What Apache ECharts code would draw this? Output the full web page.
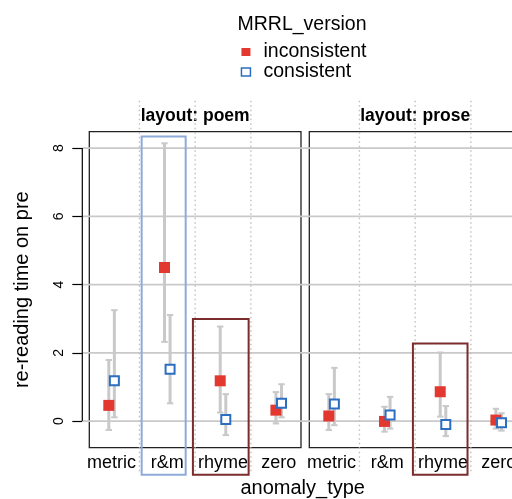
<!DOCTYPE html>
<html>
<head>
<meta charset="utf-8">
<script src="https://cdn.jsdelivr.net/npm/echarts@6/dist/echarts.min.js"></script>
<style>
html,body{margin:0;padding:0;background:#fff;}
#chart{width:512px;height:499px;}
</style>
</head>
<body>
<div id="chart"></div>
<script>
// ---- data ----
const categories = ['metric', 'r&m', 'rhyme', 'zero'];
const panelTitles = ['layout: poem', 'layout: prose'];
const seriesNames = ['inconsistent', 'consistent'];
const yTicks = [0, 2, 4, 6, 8];

const poemInconsistent     = [0.46, 4.50, 1.18, 0.32];
const poemInconsistentLow  = [-0.26, 2.32, 0.25, -0.07];
const poemInconsistentHigh = [1.79, 8.14, 2.77, 0.85];
const poemConsistent       = [1.18, 1.52, 0.05, 0.52];
const poemConsistentLow    = [0.11, 0.52, -0.41, 0.11];
const poemConsistentHigh   = [3.25, 3.11, 0.79, 1.08];

const proseInconsistent     = [0.15, -0.01, 0.86, 0.03];
const proseInconsistentLow  = [-0.26, -0.31, 0.13, -0.22];
const proseInconsistentHigh = [0.79, 0.42, 2.01, 0.36];
const proseConsistent       = [0.50, 0.18, -0.10, -0.05];
const proseConsistentLow    = [-0.12, -0.22, -0.44, -0.28];
const proseConsistentHigh   = [1.56, 0.71, 0.44, 0.23];

// highlight boxes: [panel, xFrom, xTo, yTop] (category units / data units)
const highlightPanel = [0, 0, 1];
const highlightFrom  = [1.54, 2.46, 2.46];
const highlightTo    = [2.33, 3.46, 3.44];
const highlightTop   = [8.34, 2.99, 2.27];

// ---- styles ----
const RED = '#e2382f', BLUE = '#2b6ec2', BAR = '#c9c9c9', GRIDC = '#c9c9c9';
const HL_COLORS = ['#8eaad9', '#7b2c2c', '#7b2c2c'];
const DODGE = 0.05;
const X_MIN = 0.6, X_MAX = 4.4, Y_MIN = -0.78, Y_MAX = 8.48;
const AXIS_OFFSET = 7;
const HL_BOTTOM = -1.57, DOT_TOP = 9.39, DOT_BOTTOM = -1.52;

const chart = echarts.init(document.getElementById('chart'), null, {renderer: 'canvas'});

function pts(vals, off) { return vals.map((v, i) => [i + 1 + off, v]); }
function bars(lo, hi, off) { return lo.map((l, i) => [i + 1 + off, l, hi[i]]); }

function renderErr(params, api) {
  const x = api.value(0);
  const a = api.coord([x, api.value(1)]);
  const b = api.coord([x, api.value(2)]);
  const cap = 3.2;
  return {type: 'group', children: [
    {type: 'line', shape: {x1: a[0], y1: a[1], x2: b[0], y2: b[1]}, style: {stroke: BAR, lineWidth: 3}},
    {type: 'line', shape: {x1: a[0] - cap, y1: a[1], x2: a[0] + cap, y2: a[1]}, style: {stroke: BAR, lineWidth: 2}},
    {type: 'line', shape: {x1: b[0] - cap, y1: b[1], x2: b[0] + cap, y2: b[1]}, style: {stroke: BAR, lineWidth: 2}}
  ]};
}

function renderDotted(params, api) {
  const x = api.value(0);
  const a = api.coord([x, DOT_TOP]);
  const b = api.coord([x, DOT_BOTTOM]);
  return {type: 'line', shape: {x1: a[0], y1: a[1], x2: b[0], y2: b[1]},
    style: {stroke: '#bfbfbf', lineWidth: 1.4, lineDash: [1.5, 3]}};
}

function renderHLine(params, api) {
  const p = api.coord([X_MIN, api.value(1)]);
  return {type: 'line', shape: {x1: p[0] - AXIS_OFFSET, y1: p[1], x2: api.getWidth(), y2: p[1]},
    style: {stroke: GRIDC, lineWidth: 1.6}};
}

function renderAxisLine(params, api) {
  const a = api.coord([X_MIN, api.value(1)]);
  const b = api.coord([X_MIN, api.value(2)]);
  return {type: 'line', shape: {x1: a[0] - AXIS_OFFSET, y1: a[1], x2: b[0] - AXIS_OFFSET, y2: b[1]},
    style: {stroke: '#000', lineWidth: 1.2}};
}

function renderHL(params, api) {
  const a = api.coord([api.value(0), api.value(2)]);
  const b = api.coord([api.value(1), HL_BOTTOM]);
  return {type: 'rect', shape: {x: a[0], y: a[1], width: b[0] - a[0], height: b[1] - a[1]},
    style: {fill: 'none', stroke: HL_COLORS[api.value(3)], lineWidth: 2}};
}

const grids = [
  {left: 89.3, top: 131.7, width: 211.7, height: 316},
  {left: 309.3, top: 131.7, width: 211.7, height: 316}
].map(g => Object.assign(g, {show: true, borderColor: '#222', borderWidth: 1.3, backgroundColor: 'transparent',
  containLabel: false, outerBoundsMode: 'none'}));

const xAxes = [0, 1].map(i => ({
  gridIndex: i, type: 'value', min: X_MIN, max: X_MAX,
  axisLine: {show: false}, axisTick: {show: false}, splitLine: {show: false},
  axisLabel: {
    customValues: [1, 2, 3, 4],
    formatter: v => categories[Math.round(v) - 1],
    fontSize: 18, color: '#000', margin: 6, fontFamily: 'Liberation Sans, Arial, sans-serif'
  }
}));

const yAxes = [
  {
    gridIndex: 0, type: 'value', min: Y_MIN, max: Y_MAX, offset: AXIS_OFFSET,
    name: 're-reading time on pre', nameLocation: 'middle', nameRotate: 90, nameGap: 50,
    nameTextStyle: {fontSize: 20, color: '#000', fontFamily: 'Liberation Sans, Arial, sans-serif'},
    axisLine: {show: false},
    axisTick: {show: true, customValues: yTicks, length: 10, lineStyle: {color: '#000', width: 1.2}},
    axisLabel: {customValues: yTicks, rotate: 90, fontSize: 14, margin: 16, color: '#000',
      fontFamily: 'Liberation Sans, Arial, sans-serif'},
    splitLine: {show: false}
  },
  {gridIndex: 1, type: 'value', min: Y_MIN, max: Y_MAX, show: false, splitLine: {show: false}}
];

const panelData = [
  {inc: poemInconsistent, incLo: poemInconsistentLow, incHi: poemInconsistentHigh,
   con: poemConsistent, conLo: poemConsistentLow, conHi: poemConsistentHigh},
  {inc: proseInconsistent, incLo: proseInconsistentLow, incHi: proseInconsistentHigh,
   con: proseConsistent, conLo: proseConsistentLow, conHi: proseConsistentHigh}
];

const series = [];
// horizontal grid lines (drawn once, spanning both panels)
series.push({type: 'custom', xAxisIndex: 0, yAxisIndex: 0, clip: false, silent: true, z: 1,
  renderItem: renderHLine, data: yTicks.map(v => [X_MIN, v]), encode: {x: 0, y: 1}});
// y axis line from first to last tick
series.push({type: 'custom', xAxisIndex: 0, yAxisIndex: 0, clip: false, silent: true, z: 5,
  renderItem: renderAxisLine, data: [[X_MIN, yTicks[0], yTicks[yTicks.length - 1]]], encode: {x: 0, y: [1, 2]}});

[0, 1].forEach(p => {
  const d = panelData[p];
  series.push({type: 'custom', xAxisIndex: p, yAxisIndex: p, clip: false, silent: true, z: 1,
    renderItem: renderDotted, data: [[1.5], [2.5], [3.5]], encode: {x: 0}});
  const hl = [];
  highlightPanel.forEach((hp, k) => { if (hp === p) hl.push([highlightFrom[k], highlightTo[k], highlightTop[k], k]); });
  series.push({type: 'custom', xAxisIndex: p, yAxisIndex: p, clip: false, silent: true, z: 2,
    renderItem: renderHL, data: hl, encode: {x: [0, 1], y: 2}});
  series.push({type: 'custom', xAxisIndex: p, yAxisIndex: p, clip: false, silent: true, z: 3,
    renderItem: renderErr, data: bars(d.incLo, d.incHi, -DODGE), encode: {x: 0, y: [1, 2]}});
  series.push({type: 'custom', xAxisIndex: p, yAxisIndex: p, clip: false, silent: true, z: 3,
    renderItem: renderErr, data: bars(d.conLo, d.conHi, DODGE), encode: {x: 0, y: [1, 2]}});
  series.push({name: seriesNames[0], type: 'scatter', xAxisIndex: p, yAxisIndex: p, z: 4,
    symbol: 'rect', symbolSize: 11, itemStyle: {color: RED, opacity: 1},
    data: pts(d.inc, -DODGE)});
  series.push({name: seriesNames[1], type: 'scatter', xAxisIndex: p, yAxisIndex: p, z: 4,
    symbol: 'rect', symbolSize: 9, itemStyle: {color: '#fff', borderColor: BLUE, borderWidth: 2, opacity: 1},
    data: pts(d.con, DODGE)});
});

const FONT = 'Liberation Sans, Arial, sans-serif';
const option = {
  animation: false,
  backgroundColor: '#fff',
  grid: grids,
  xAxis: xAxes,
  yAxis: yAxes,
  legend: {
    orient: 'vertical', left: 240.7, top: 42, itemGap: 0, padding: 0,
    itemWidth: 9, itemHeight: 8, icon: 'rect',
    selectedMode: false,
    textStyle: {fontSize: 19.5, color: '#000', fontFamily: FONT, lineHeight: 20, padding: [0, 0, 0, 8]},
    data: [
      {name: seriesNames[0], itemStyle: {color: RED}},
      {name: seriesNames[1], itemStyle: {color: '#fff', borderColor: BLUE, borderWidth: 1.5}}
    ]
  },
  graphic: [
    {type: 'text', x: 302, y: 25, style: {text: 'MRRL_version', fontSize: 19.5, fontFamily: FONT, fill: '#000',
      align: 'center', verticalAlign: 'middle'}},
    {type: 'text', x: 302.7, y: 488, style: {text: 'anomaly_type', fontSize: 20, fontFamily: FONT, fill: '#000',
      align: 'center', verticalAlign: 'middle'}},
    {type: 'text', x: 195.2, y: 116.2, style: {text: panelTitles[0], fontSize: 17.5, fontWeight: 'bold', fontFamily: FONT,
      fill: '#000', align: 'center', verticalAlign: 'middle'}},
    {type: 'text', x: 415.2, y: 116.2, style: {text: panelTitles[1], fontSize: 17.5, fontWeight: 'bold', fontFamily: FONT,
      fill: '#000', align: 'center', verticalAlign: 'middle'}}
  ],
  series: series
};
chart.setOption(option);
</script>
</body>
</html>
